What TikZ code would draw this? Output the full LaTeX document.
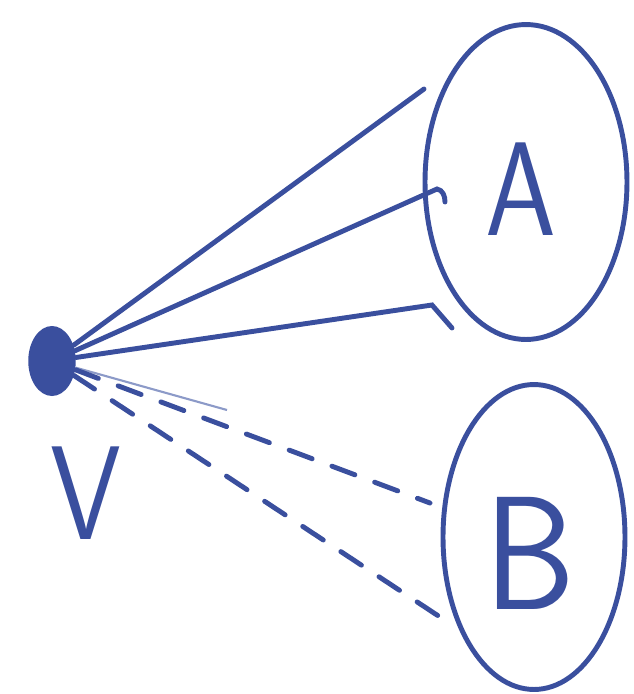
\documentclass[tikz,border=0pt]{standalone}
\usepackage{tikz}
\usetikzlibrary{arrows.meta, positioning, shapes.geometric, calc}
\definecolor{inkblue}{HTML}{3A4F9E}
\definecolor{inkfaint}{HTML}{8C9AC8}

\begin{document}
\begin{tikzpicture}[x=0.02cm, y=-0.02cm,
    ink/.style={inkblue, line width=2.8pt, line cap=round},
    setshape/.style={ellipse, draw=inkblue, line width=2.8pt, inner sep=0pt},
    vertex/.style={ellipse, fill=inkblue, inner sep=0pt,
                   minimum width=0.95cm, minimum height=1.4cm},
    hand/.style={inkblue, font=\sffamily\fontsize{76}{76}\selectfont},
    dashedink/.style={ink, dash pattern=on 14pt off 12pt}]
    \useasboundingbox (0,0) rectangle (634,694);
    % Sets
    \node[setshape, minimum width=4.04cm, minimum height=6.3cm] (A) at (526,182) {};
    \node[setshape, minimum width=3.64cm, minimum height=6.1cm] (B) at (534,537) {};
    \node[hand, xscale=0.85] (labA) at (521,189) {A};
    \node[hand, font=\sffamily\fontsize{92}{92}\selectfont, xscale=0.9] (labB) at (530,553) {B};
    % Vertex
    \node[vertex] (V) at (52,361) {};
    \node[hand, xscale=0.85] (labV) at (86,493) {V};
    % Ends on A
    \coordinate (a1) at (424,89);
    \coordinate (a2) at (437,189);
    \coordinate (a2h) at (445,202);
    \coordinate (a3) at (432,305);
    \coordinate (a3t) at (452,328);
    % Ends on B
    \coordinate (b1) at (430,503);
    \coordinate (b2) at (440,617);
    \coordinate (vf) at (227,410);
    % Solid edges
    \draw[ink] (V) -- (a1);
    \draw[ink] (V) -- (a2) to[out=-10, in=90] (a2h);
    \draw[ink] (V) -- (a3) -- (a3t);
    % Dashed edges
    \draw[inkfaint, line width=1.2pt] (V) -- (vf);
    \draw[dashedink] (V) -- (b1);
    \draw[dashedink] (V) -- (b2);
\end{tikzpicture}
\end{document}
